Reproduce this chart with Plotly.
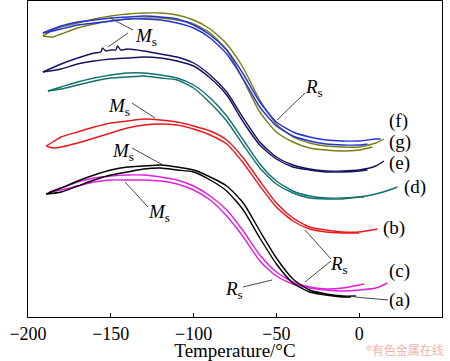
import plotly.graph_objects as go

# ---- data (temperature in °C, signal in arbitrary units) ----
g_T_up = [-191, -185, -180, -170, -160, -150, -140, -130, -120, -110, -100, -90, -80, -70, -60, -50, -40, -30, -20, -10, 0, 10, 15]
g_y_up = [281, 287, 290, 294, 298, 301, 303, 304, 304, 302, 297, 288, 273, 249, 217, 193, 180, 174, 171, 170, 170, 174, 178]
g_T_lo = [-191, -185, -180, -170, -160, -150, -140, -130, -120, -110, -100, -90, -80, -70, -60, -50, -40, -30, -20, -10, 0, 8]
g_y_lo = [281, 280, 283, 289, 293, 296, 298, 299, 299, 297, 293, 284, 267, 237, 205, 185, 175, 169, 167, 166, 167, 170]

f_T_up = [-191, -185, -180, -170, -160, -150, -140, -130, -120, -110, -100, -90, -80, -70, -60, -50, -40, -30, -20, -10, 0, 10, 13]
f_y_up = [284, 288, 291, 295, 297, 299, 300, 301, 300, 298, 292, 282, 267, 243, 215, 195, 185, 180, 177, 176, 176, 178, 178]
f_T_lo = [-191, -185, -180, -170, -160, -150, -140, -130, -120, -110, -100, -90, -80, -70, -60, -50, -40, -30, -20, -10, 0, 5]
f_y_lo = [284, 286, 288, 292, 294, 296, 298, 298, 297, 294, 289, 279, 263, 238, 210, 191, 181, 176, 173, 172, 172, 173]

e_T_up = [-191, -180, -170, -160, -156, -155, -153, -150, -147, -146, -144, -140, -130, -120, -110, -100, -90, -80, -70, -60, -50, -40, -30, -20, -10, 0, 10, 15]
e_y_up = [245, 253, 259, 264, 265, 269, 266, 267, 267, 271, 267, 268, 266, 263, 260, 254, 242, 225, 199, 175, 160, 152, 148, 146, 146, 147, 151, 156]
e_T_lo = [-191, -180, -170, -160, -150, -140, -130, -120, -110, -100, -90, -80, -70, -60, -50, -40, -30, -20, -10, 0, 5]
e_y_lo = [245, 248, 253, 256, 258, 259, 260, 259, 256, 251, 239, 222, 195, 172, 158, 150, 147, 145, 145, 146, 147]

d_T_up = [-188, -180, -170, -160, -150, -140, -130, -120, -110, -100, -90, -80, -70, -60, -50, -40, -30, -20, -10, 0, 10, 20, 23]
d_y_up = [226, 230, 235, 239, 242, 244, 244, 242, 239, 232, 219, 201, 177, 153, 136, 126, 121, 119, 119, 120, 123, 128, 130]
d_T_lo = [-188, -180, -170, -160, -150, -140, -130, -120, -110, -100, -90, -80, -70, -60, -50, -40, -30, -20, -10, 0, 3]
d_y_lo = [226, 228, 232, 236, 239, 240, 241, 239, 237, 229, 214, 196, 172, 149, 133, 124, 119, 118, 118, 120, 120]

b_T_up = [-189, -185, -180, -170, -160, -150, -140, -130, -120, -110, -100, -90, -80, -70, -60, -50, -40, -30, -20, -10, 0, 11]
b_y_up = [171, 175, 180, 185, 190, 194, 196, 198, 197, 195, 191, 186, 177, 159, 136, 114, 99, 90, 87, 85, 85, 88]
b_T_lo = [-189, -185, -180, -170, -160, -150, -140, -130, -120, -110, -100, -90, -80, -70, -60, -50, -40, -30, -20, -10, 0]
b_y_lo = [171, 169, 170, 174, 179, 184, 189, 192, 193, 192, 188, 182, 173, 154, 131, 110, 96, 88, 85, 84, 84]

a_T_up = [-189, -180, -170, -160, -150, -140, -130, -120, -110, -100, -90, -80, -70, -60, -50, -40, -30, -20, -10, -2]
a_y_up = [123, 129, 136, 142, 147, 150, 151, 152, 150, 147, 140, 131, 114, 86, 59, 38, 27, 23, 21, 21]
a_T_lo = [-189, -180, -170, -160, -150, -140, -130, -120, -110, -100, -90, -80, -70, -60, -50, -40, -30, -20, -10, -5]
a_y_lo = [123, 125, 131, 137, 142, 145, 148, 149, 147, 145, 137, 126, 107, 79, 53, 34, 25, 22, 20, 20]

c_T_up = [-187, -180, -170, -160, -150, -140, -130, -120, -110, -100, -90, -80, -70, -60, -50, -40, -30, -20, -10, 0, 3]
c_y_up = [125, 129, 135, 139, 141, 142, 142, 140, 137, 131, 121, 107, 86, 62, 45, 35, 30, 28, 29, 32, 33]
c_T_lo = [-187, -180, -170, -160, -150, -140, -130, -120, -110, -100, -90, -80, -70, -60, -50, -40, -30, -20, -10, 0, 10, 17]
c_y_lo = [125, 127, 131, 135, 137, 137, 137, 136, 133, 127, 117, 101, 80, 56, 41, 33, 29, 27, 26, 27, 29, 34]

x_ticks = [-200, -150, -100, -50, 0, 50]

series = [
    ("(g)", "#7c7c14", g_T_up, g_y_up, g_T_lo, g_y_lo),
    ("(f)", "#2233d6", f_T_up, f_y_up, f_T_lo, f_y_lo),
    ("(e)", "#15135e", e_T_up, e_y_up, e_T_lo, e_y_lo),
    ("(d)", "#12706c", d_T_up, d_y_up, d_T_lo, d_y_lo),
    ("(b)", "#e8191c", b_T_up, b_y_up, b_T_lo, b_y_lo),
    ("(c)", "#e01ee0", c_T_up, c_y_up, c_T_lo, c_y_lo),
    ("(a)", "#000000", a_T_up, a_y_up, a_T_lo, a_y_lo),
]

SERIF = "Liberation Serif, Times New Roman, serif"

fig = go.Figure()
for name, col, tu, yu, tl, yl in series:
    for tx, ty in ((tu, yu), (tl, yl)):
        fig.add_trace(go.Scatter(x=tx, y=ty, mode="lines", name=name, showlegend=False,
                                 line=dict(color=col, width=1.4, shape="spline", smoothing=0.6),
                                 hoverinfo="skip"))

def px2data(px, py):
    return -200 + (px - 28) * 250 / 414, 317 - py

shapes = []
def seg(p0, p1):
    x0, y0 = px2data(*p0)
    x1, y1 = px2data(*p1)
    shapes.append(dict(type="line", xref="x", yref="y", x0=x0, y0=y0, x1=x1, y1=y1,
                       line=dict(color="#333333", width=0.9)))

# leader lines
seg((133, 30), (110, 18)); seg((128, 33), (108, 47))
seg((132, 103), (155, 118))
seg((132, 148), (163, 165))
seg((148, 207), (125, 182))
seg((305, 93), (277, 120))
seg((331, 259), (305, 230)); seg((331, 261), (305, 282))
seg((243, 287), (272, 280))
seg((388, 300), (355, 297))

annots = []
def label(px, py, text, size=19, anchor="left"):
    x, y = px2data(px, py)
    annots.append(dict(x=x, y=y, xref="x", yref="y", text=text, showarrow=False,
                       xanchor=anchor, yanchor="middle",
                       font=dict(family=SERIF, size=size, color="black")))

MS = "<i>M</i><sub>s</sub>"
RS = "<i>R</i><sub>s</sub>"
label(133, 37, MS)
label(106, 107, MS)
label(110, 152, MS)
label(146, 213, MS)
label(303, 88, RS)
label(328, 265, RS)
label(223, 290, RS)
label(387, 121, "(f)")
label(387, 142, "(g)")
label(387, 163, "(e)")
label(402, 187, "(d)")
label(381, 228, "(b)")
label(387, 271, "(c)")
label(387, 300, "(a)")

annots.append(dict(x=1.0, y=0.0, xref="paper", yref="paper", yshift=-43, xshift=4,
                   text="®有色金属在线", showarrow=False, xanchor="right", yanchor="bottom",
                   font=dict(family="Noto Sans CJK SC", size=12, color="#f3b2aa")))

fig.update_layout(
    width=450, height=361,
    margin=dict(l=28, r=8, t=1, b=44),
    paper_bgcolor="white", plot_bgcolor="white",
    shapes=shapes, annotations=annots,
    xaxis=dict(range=[-200, 50], tickvals=x_ticks, ticks="inside", ticklen=4, tickwidth=1,
               tickcolor="black", showline=True, linecolor="black", linewidth=1.3, mirror=True,
               showgrid=False, zeroline=False,
               tickfont=dict(family=SERIF, size=18, color="black"),
               title=dict(text="Temperature/°C", standoff=3,
                          font=dict(family=SERIF, size=19, color="black"))),
    yaxis=dict(range=[0, 316], showticklabels=False, ticks="", showline=True, linecolor="black",
               linewidth=1.3, mirror=True, showgrid=False, zeroline=False),
)

fig.write_html("out.html", config={"displayModeBar": False},
               post_script="document.body.style.margin='0';document.body.style.overflow='hidden';")
